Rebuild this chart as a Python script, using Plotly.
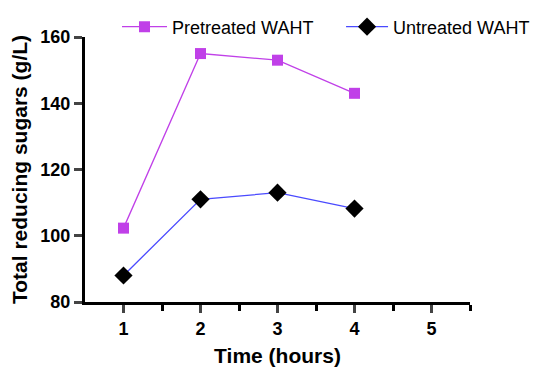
import plotly.graph_objects as go

time_hours = [1, 2, 3, 4]
pretreated = [102.3, 155, 153, 143]
untreated = [88, 111, 113, 108.2]
x_ticks = [1, 2, 3, 4, 5]
y_ticks = [80, 100, 120, 140, 160]

FONT = "Liberation Sans, Arial, sans-serif"

fig = go.Figure()
fig.add_trace(go.Scatter(
    x=time_hours, y=pretreated, name="Pretreated WAHT", mode="lines+markers",
    line=dict(color="#c040e8", width=1.3),
    marker=dict(symbol="square", size=11, color="#c040e8"),
    legend="legend",
))
fig.add_trace(go.Scatter(
    x=time_hours, y=untreated, name="Untreated WAHT", mode="lines+markers",
    line=dict(color="#4a4aff", width=1.3),
    marker=dict(symbol="diamond", size=14, color="black"),
    legend="legend2",
))

leg_common = dict(orientation="h", xref="container", yref="container",
                  y=0.9485, yanchor="middle",
                  font=dict(size=18, family=FONT),
                  bgcolor="rgba(0,0,0,0)")

fig.update_layout(
    width=541, height=369,
    margin=dict(l=77, r=79, t=29, b=75, autoexpand=False),
    plot_bgcolor="white", paper_bgcolor="white",
    font=dict(family=FONT, color="black"),
    showlegend=True,
    legend=dict(x=0.2015, xanchor="left", itemwidth=45, **leg_common),
    legend2=dict(x=0.9742, xanchor="right", itemwidth=42, **leg_common),
    xaxis=dict(
        range=[0.5, 5.5], tickvals=x_ticks, ticks="outside", ticklen=8, tickwidth=2.5,
        showline=True, linewidth=3, linecolor="black", showgrid=False, zeroline=False,
        tickfont=dict(size=18, family=FONT, weight="bold"),
        title=dict(text="Time (hours)", font=dict(size=21, weight="bold"), standoff=11),
        minor=dict(tickvals=[1.5, 2.5, 3.5, 4.5, 5.5], ticks="outside", ticklen=6, tickwidth=2.5, tickcolor="black"),
    ),
    yaxis=dict(
        range=[80, 160], tickvals=y_ticks, ticks="outside", ticklen=8, tickwidth=2.5,
        showline=True, linewidth=3, linecolor="black", showgrid=False, zeroline=False,
        tickfont=dict(size=18, family=FONT, weight="bold"),
        title=dict(text="Total reducing sugars (g/L)", font=dict(size=21, weight="bold"), standoff=8),
    ),
)
fig.write_html("out.html")
